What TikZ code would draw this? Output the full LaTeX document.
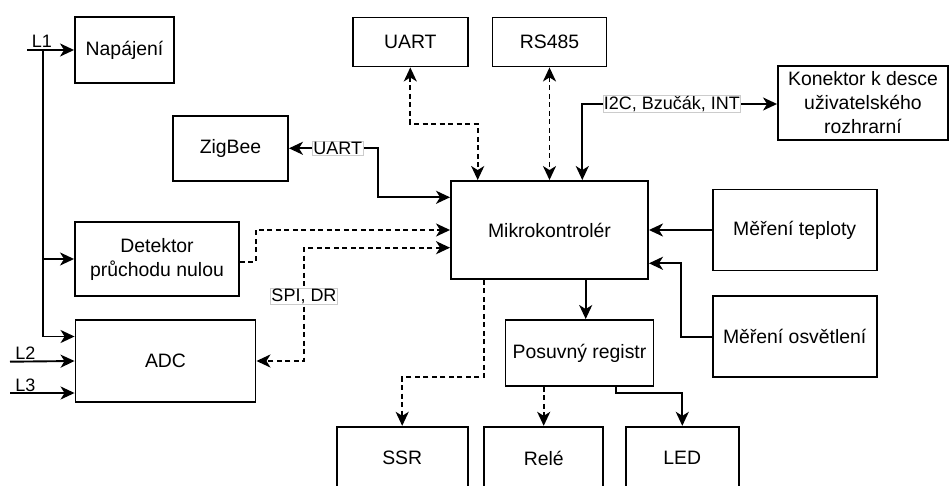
\documentclass[tikz,border=0pt]{standalone}
\usepackage{fontspec}
\setmainfont{Liberation Sans}
\usetikzlibrary{arrows.meta}

\tikzset{
  blk/.style={draw, line width=1.9pt, inner sep=0pt, align=center,
    font=\fontsize{19.4}{24}\selectfont},
  wire/.style={line width=1.9pt},
  dsh/.style={wire, dash pattern=on 5pt off 3.5pt},
  lbl/.style={solid, fill=white, draw=black!20, line width=0.7pt, inner sep=0.8pt,
    font=\fontsize{18}{20}\selectfont},
  pin/.style={inner sep=0pt, font=\fontsize{18}{20}\selectfont},
  >={Stealth[length=14pt, width=13pt, inset=4pt]}
}

\begin{document}
\begin{tikzpicture}[x=1pt, y=-1pt]
\useasboundingbox (0,0) rectangle (950,486);
\clip (0,0) rectangle (950,486);

% blocks
\node[blk, minimum width=99pt,  minimum height=66pt] (nap)   at (124.5,50)  {Napájení};
\node[blk, minimum width=164pt, minimum height=74pt] (det)   at (157,259)   {Detektor\\průchodu nulou};
\node[blk, minimum width=180pt, minimum height=82pt] (adc)   at (165.5,361) {ADC};
\node[blk, minimum width=115pt, minimum height=65pt] (zig)   at (230.5,148.3) {ZigBee};
\node[blk, minimum width=115pt, minimum height=49pt] (uartb) at (410.3,42)  {UART};
\node[blk, minimum width=114pt, minimum height=49pt] (rs)    at (549.5,42)  {RS485};
\node[blk, minimum width=197pt, minimum height=98pt] (mcu)   at (549.5,230) {Mikrokontrolér};
\node[blk, minimum width=170pt, minimum height=74pt] (kon)   at (863,103)   {Konektor k desce\\uživatelského\\rozhrarní};
\node[blk, minimum width=164pt, minimum height=81pt] (tep)   at (794.7,230) {Měření teploty};
\node[blk, minimum width=164pt, minimum height=81pt] (osv)   at (794.7,336.7) {Měření osvětlení};
\node[blk, minimum width=148pt, minimum height=66pt] (reg)   at (579.5,353) {Posuvný registr};
\node[blk, minimum width=131pt, minimum height=63pt] (ssr)   at (402.2,458.3) {SSR};
\node[blk, minimum width=119pt, minimum height=63pt] (rele)  at (543.7,458.3) {Relé};
\node[blk, minimum width=113pt, minimum height=63pt] (led)   at (682.3,458.3) {LED};

% mains inputs
\coordinate (l1) at (27,50);
\coordinate (bus) at (43,50);
\coordinate (l2) at (10,361.7);
\coordinate (l3) at (10,393);
\node[pin] (l1t) at (42,41.5) {L1};
\node[pin] (l2t) at (25.5,353) {L2};
\node[pin] (l3t) at (25.5,385) {L3};
\draw[wire,->] (l1) -- (nap.west);
\draw[wire,->] (bus) |- ([yshift=24.5pt]adc.west);
\draw[wire,->] (bus |- det.west) -- (det.west);
\draw[wire,->] (l2) -- (adc.west);
\draw[wire,->] (l3) -- (l3 -| adc.west);

% zero-cross detector and ADC to the MCU
\coordinate (detk) at (255.7,230);
\draw[dsh,->] ([yshift=-3pt]det.east) -| (detk) -- (mcu.west);
\coordinate (spix) at (304,361);
\draw[dsh,<->] ([yshift=-17.7pt]mcu.west) -| node[lbl, pos=0.715] (spil) {SPI, DR} (spix) -- (adc.east);

% ZigBee link
\coordinate (zbx) at (377.7,148.3);
\draw[wire,<->] (zig.east) -- node[lbl, pos=0.55] (zbl) {UART} (zbx) |- ([yshift=32.7pt]mcu.west);

% UART and RS485
\coordinate (ubend) at (477.7,124);
\draw[dsh,<->] (uartb.south) |- (ubend) -- (ubend |- mcu.north);
\draw[dsh,<->] (rs.south) -- (rs.south |- mcu.north);

% user interface connector
\coordinate (ib) at (582.3,104);
\draw[wire,<->] (ib |- mcu.north) -- (ib) -- node[lbl, pos=0.46] (i2cl) {I2C, Bzučák, INT} (ib -| kon.west);

% sensors
\draw[wire,->] (tep.west) -- (mcu.east);
\coordinate (ob) at (680.7,263.3);
\draw[wire,->] (osv.west) -| (ob) -- (ob -| mcu.east);

% outputs
\coordinate (mr) at (585.7,279);
\draw[wire,->] (mr |- mcu.south) -- (mr |- reg.north);
\coordinate (sb) at (484,377.3);
\draw[dsh,->] (sb |- mcu.south) -- (sb) -| (ssr.north);
\draw[dsh,->] (rele.north |- reg.south) -- (rele.north);
\coordinate (lb) at (616,393.3);
\draw[wire,->] (lb |- reg.south) -- (lb) -| (led.north);
\end{tikzpicture}
\end{document}
